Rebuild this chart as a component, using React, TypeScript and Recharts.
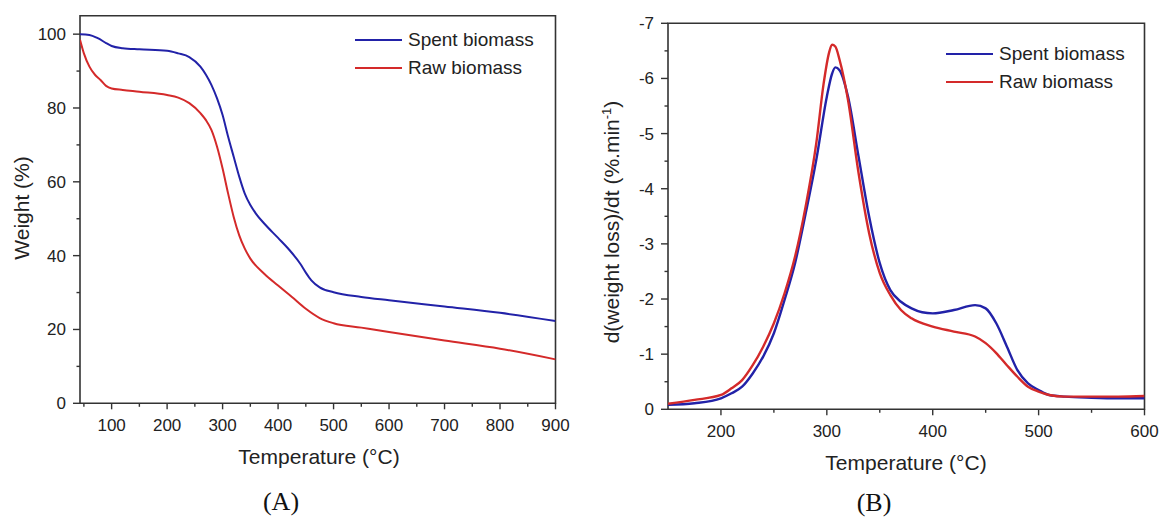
import React from 'react';
import { LineChart, Line, XAxis, YAxis, ReferenceArea } from 'recharts';

// (A) TGA – weight (%) vs temperature (°C)
const tgaSpentTemp = [43, 60, 75, 90, 100, 120, 150, 200, 220, 240, 260, 270, 280, 290, 300, 310, 320, 330, 340, 350, 360, 375, 400, 420, 440, 450, 460, 475, 500, 550, 600, 700, 800, 900];
const tgaSpentWeight = [100, 99.8, 98.9, 97.6, 96.8, 96.2, 95.9, 95.5, 94.8, 93.8, 91.2, 89, 86.2, 82.6, 78.1, 72.2, 66.8, 61.4, 56.8, 53.7, 51.4, 48.7, 44.8, 41.6, 37.8, 35.4, 33.3, 31.4, 30.1, 28.8, 27.9, 26.2, 24.5, 22.3];
const tgaRawTemp = [43, 50, 60, 70, 80, 90, 100, 120, 150, 200, 220, 240, 260, 270, 280, 290, 300, 310, 320, 330, 340, 350, 375, 400, 425, 450, 475, 500, 550, 600, 700, 800, 900];
const tgaRawWeight = [98.5, 94.8, 91.2, 89, 87.6, 86, 85.3, 84.9, 84.4, 83.5, 82.8, 81.3, 78.6, 76.7, 74, 69.5, 63.6, 56.8, 50.5, 45.5, 41.9, 39.2, 35.1, 31.9, 28.8, 25.6, 23.1, 21.7, 20.5, 19.3, 17, 14.8, 11.9];

// (B) DTG – d(weight loss)/dt vs temperature (°C)
const dtgSpentTemp = [150, 175, 200, 210, 220, 230, 240, 250, 260, 270, 280, 290, 300, 305, 308, 312, 320, 330, 340, 350, 360, 370, 380, 390, 400, 420, 440, 450, 460, 470, 480, 490, 500, 510, 525, 550, 575, 600];
const dtgSpentRate = [-0.08, -0.11, -0.2, -0.29, -0.41, -0.65, -0.96, -1.38, -1.98, -2.65, -3.55, -4.52, -5.67, -6.09, -6.2, -6.15, -5.67, -4.58, -3.49, -2.65, -2.16, -1.95, -1.83, -1.76, -1.74, -1.8, -1.89, -1.83, -1.56, -1.14, -0.71, -0.47, -0.35, -0.26, -0.23, -0.21, -0.2, -0.2];
const dtgRawTemp = [150, 175, 200, 210, 220, 230, 240, 250, 260, 270, 280, 290, 297, 302, 305, 308, 312, 320, 330, 340, 350, 360, 370, 380, 400, 420, 440, 450, 460, 470, 480, 490, 500, 510, 525, 550, 575, 600];
const dtgRawRate = [-0.1, -0.17, -0.26, -0.38, -0.53, -0.8, -1.14, -1.56, -2.1, -2.77, -3.68, -4.82, -5.91, -6.46, -6.61, -6.58, -6.34, -5.61, -4.28, -3.19, -2.47, -2.07, -1.8, -1.65, -1.5, -1.41, -1.32, -1.2, -1.02, -0.8, -0.59, -0.41, -0.32, -0.26, -0.23, -0.23, -0.23, -0.24];

const tgaXTicks = [50, 100, 150, 200, 250, 300, 350, 400, 450, 500, 550, 600, 650, 700, 750, 800, 850, 900];
const tgaYTicks = [0, 10, 20, 30, 40, 50, 60, 70, 80, 90, 100];
const dtgXTicks = [200, 250, 300, 350, 400, 450, 500, 550, 600];
const dtgYTicks = [0, -0.5, -1, -1.5, -2, -2.5, -3, -3.5, -4, -4.5, -5, -5.5, -6, -6.5, -7];

const seriesNames = ['Spent biomass', 'Raw biomass'];
const BLUE = '#2222a8';
const RED = '#d42a2a';
const AXIS = '#333';
const FONT = '"Liberation Sans", Arial, sans-serif';

const toPoints = (xs: number[], ys: number[]) => xs.map((t, i) => ({ t, v: ys[i] }));

const isMajor = (v: number, step: number) => Math.abs(v % step) < 1e-6;

const makeXTick = (step: number) => (props: any) => {
  const { x, y, payload } = props;
  const major = isMajor(payload.value, step);
  return (
    <g>
      <line x1={x} x2={x} y1={y} y2={y + (major ? 6 : 3.5)} stroke={AXIS} strokeWidth={1.4} />
      {major && (
        <text x={x} y={y + 28} textAnchor="middle" fontSize={17} fill="#222" fontFamily={FONT}>
          {payload.value}
        </text>
      )}
    </g>
  );
};

const makeYTick = (step: number) => (props: any) => {
  const { x, y, payload } = props;
  const major = isMajor(payload.value, step);
  return (
    <g>
      <line x1={x - (major ? 7 : 3.5)} x2={x} y1={y} y2={y} stroke={AXIS} strokeWidth={1.4} />
      {major && (
        <text x={x - 14} y={y + 6} textAnchor="end" fontSize={17} fill="#222" fontFamily={FONT}>
          {payload.value}
        </text>
      )}
    </g>
  );
};

function LegendBox({ left, top, gap }: { left: number; top: number; gap: number }) {
  const colors = [BLUE, RED];
  return (
    <div style={{ position: 'absolute', left, top, fontFamily: FONT, fontSize: 19, color: '#222' }}>
      {seriesNames.map((name, i) => (
        <div key={name} style={{ position: 'absolute', top: i * gap - 12, left: 0, height: 24, display: 'flex', alignItems: 'center', whiteSpace: 'nowrap' }}>
          <svg width={47} height={4} style={{ marginRight: 6 }}>
            <line x1={0} x2={47} y1={2} y2={2} stroke={colors[i]} strokeWidth={2} />
          </svg>
          <span>{name}</span>
        </div>
      ))}
    </div>
  );
}

const titleStyle: React.CSSProperties = {
  position: 'absolute',
  fontFamily: FONT,
  fontSize: 21,
  color: '#222',
  whiteSpace: 'nowrap',
  transform: 'translate(-50%, -50%)',
};

const panelStyle: React.CSSProperties = {
  position: 'absolute',
  fontFamily: '"Liberation Serif", "Times New Roman", serif',
  fontSize: 26,
  lineHeight: '26px',
  color: '#111',
  transform: 'translate(-50%, -50%)',
};

export default function App() {
  return (
    <div style={{ position: 'absolute', left: 0, top: 0, width: 1160, height: 518, background: '#fff', overflow: 'hidden' }}>
      <LineChart width={580} height={518} margin={{ top: 15.7, right: 24.5, bottom: 84.7, left: 0 }} style={{ position: 'absolute', left: 0, top: 0 }}>
        <XAxis dataKey="t" type="number" domain={[43, 900]} allowDataOverflow ticks={tgaXTicks} interval={0} axisLine={false} tickLine={false} tickSize={0} tickMargin={0} height={30} tick={makeXTick(100)} />
        <YAxis type="number" domain={[0, 105]} allowDataOverflow ticks={tgaYTicks} interval={0} axisLine={false} tickLine={false} tickSize={0} tickMargin={0} width={80} tick={makeYTick(20)} />
        <ReferenceArea x1={43} x2={900} y1={0} y2={105} fill="none" stroke={AXIS} strokeWidth={1.6} ifOverflow="visible" />
        <Line data={toPoints(tgaSpentTemp, tgaSpentWeight)} dataKey="v" name={seriesNames[0]} type="monotone" stroke={BLUE} strokeWidth={2} dot={false} activeDot={false} isAnimationActive={false} />
        <Line data={toPoints(tgaRawTemp, tgaRawWeight)} dataKey="v" name={seriesNames[1]} type="monotone" stroke={RED} strokeWidth={2} dot={false} activeDot={false} isAnimationActive={false} />
      </LineChart>

      <LineChart width={580} height={518} margin={{ top: 23.3, right: 15.5, bottom: 78.7, left: 0 }} style={{ position: 'absolute', left: 580, top: 0 }}>
        <XAxis dataKey="t" type="number" domain={[150, 600]} allowDataOverflow ticks={dtgXTicks} interval={0} axisLine={false} tickLine={false} tickSize={0} tickMargin={0} height={30} tick={makeXTick(100)} />
        <YAxis type="number" domain={[-7, 0]} reversed allowDataOverflow ticks={dtgYTicks} interval={0} axisLine={false} tickLine={false} tickSize={0} tickMargin={0} width={88} tick={makeYTick(1)} />
        <ReferenceArea x1={150} x2={600} y1={-7} y2={0} fill="none" stroke={AXIS} strokeWidth={1.6} ifOverflow="visible" />
        <Line data={toPoints(dtgSpentTemp, dtgSpentRate)} dataKey="v" name={seriesNames[0]} type="monotone" stroke={BLUE} strokeWidth={2.4} dot={false} activeDot={false} isAnimationActive={false} />
        <Line data={toPoints(dtgRawTemp, dtgRawRate)} dataKey="v" name={seriesNames[1]} type="monotone" stroke={RED} strokeWidth={2.4} dot={false} activeDot={false} isAnimationActive={false} />
      </LineChart>

      <LegendBox left={355} top={40} gap={28} />
      <LegendBox left={946} top={54} gap={27.5} />

      <div style={{ ...titleStyle, left: 319, top: 457 }}>Temperature (°C)</div>
      <div style={{ ...titleStyle, left: 906, top: 463 }}>Temperature (°C)</div>
      <div style={{ ...titleStyle, left: 22, top: 208, transform: 'translate(-50%, -50%) rotate(-90deg)' }}>Weight (%)</div>
      <div style={{ ...titleStyle, left: 612, top: 222, transform: 'translate(-50%, -50%) rotate(-90deg)' }}>
        d(weight loss)/dt (%.min<sup style={{ fontSize: 13, verticalAlign: 'super', lineHeight: 0 }}>-1</sup>)
      </div>

      <div style={{ ...panelStyle, left: 281, top: 502 }}>(A)</div>
      <div style={{ ...panelStyle, left: 874, top: 503 }}>(B)</div>
    </div>
  );
}
